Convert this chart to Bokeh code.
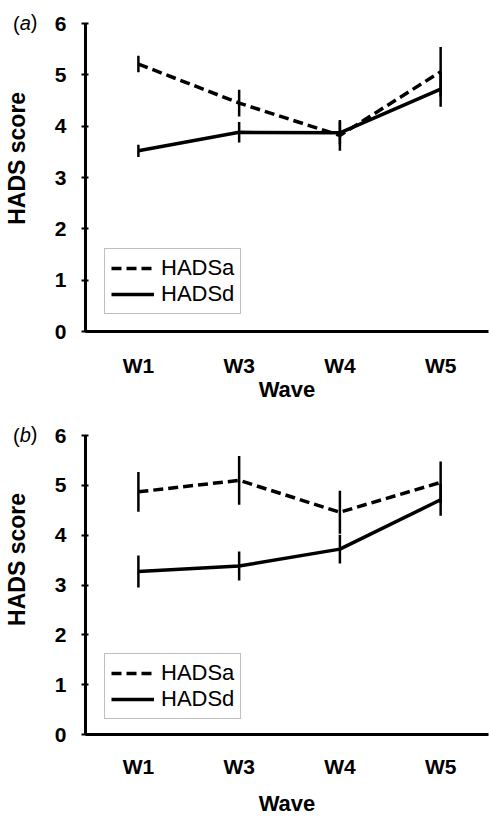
from bokeh.plotting import figure
from bokeh.models import Range1d, FixedTicker, Legend, LegendItem, Title
from bokeh.layouts import column
from bokeh.embed import file_html
from bokeh.resources import INLINE

waves = ["W1", "W3", "W4", "W5"]
yticks = [0, 1, 2, 3, 4, 5, 6]

# panel (a)
a_hadsa = [5.21, 4.45, 3.82, 5.06]
a_hadsa_err = [0.16, 0.26, 0.30, 0.48]
a_hadsd = [3.52, 3.88, 3.87, 4.72]
a_hadsd_err = [0.12, 0.20, 0.22, 0.34]

# panel (b)
b_hadsa = [4.87, 5.10, 4.46, 5.06]
b_hadsa_err = [0.40, 0.49, 0.43, 0.42]
b_hadsd = [3.27, 3.38, 3.72, 4.71]
b_hadsd_err = [0.32, 0.29, 0.29, 0.32]

FONT = "Liberation Sans"
NBSP = "\u00a0"


def panel(tag, av, ae, dv, de, height, top, bottom, tick_standoff,
          lab_standoff, leg_loc, ylab_pad):
    xpos = list(range(1, len(waves) + 1))
    p = figure(width=489, height=height, x_range=Range1d(0.475, 4.475),
               y_range=Range1d(0, 6), output_backend="svg",
               toolbar_location=None, min_border_left=84, min_border_right=1,
               min_border_top=top, min_border_bottom=bottom)
    p.outline_line_color = None
    p.xgrid.visible = False
    p.ygrid.visible = False

    # error bars
    for vals, errs in ((av, ae), (dv, de)):
        p.segment(x0=xpos, x1=xpos,
                  y0=[v - e for v, e in zip(vals, errs)],
                  y1=[v + e for v, e in zip(vals, errs)],
                  line_color="black", line_width=2.5)
    ra = p.line(xpos, av, line_color="black", line_width=3.5, line_dash="10 5")
    rd = p.line(xpos, dv, line_color="black", line_width=3.5)

    # axes
    xa = p.xaxis[0]
    xa.ticker = FixedTicker(ticks=xpos)
    xa.major_label_overrides = {i: w for i, w in zip(xpos, waves)}
    xa.major_tick_line_color = None
    xa.minor_tick_line_color = None
    xa.axis_line_width = 3
    xa.axis_label = "Wave"
    xa.major_label_standoff = tick_standoff
    xa.axis_label_standoff = lab_standoff

    ya = p.yaxis[0]
    ya.ticker = FixedTicker(ticks=yticks)
    ya.minor_tick_line_color = None
    ya.major_tick_in = 3
    ya.major_tick_out = 4
    ya.major_tick_line_width = 2
    ya.axis_line_width = 3
    # leading no-break spaces shift the label towards the top, as in the figure
    ya.axis_label = NBSP * ylab_pad + "HADS score"
    ya.major_label_standoff = 15
    ya.axis_label_standoff = 22

    for ax in (xa, ya):
        ax.major_label_text_font = FONT
        ax.major_label_text_font_style = "bold"
        ax.major_label_text_font_size = "21px"
        ax.major_label_text_color = "black"
        ax.axis_label_text_font = FONT
        ax.axis_label_text_font_style = "bold"
        ax.axis_label_text_color = "black"
        ax.axis_line_color = "black"
    xa.axis_label_text_font_size = "22px"
    ya.axis_label_text_font_size = "23px"

    legend = Legend(items=[LegendItem(label="HADSa", renderers=[ra]),
                           LegendItem(label="HADSd", renderers=[rd])],
                    location=leg_loc)
    legend.border_line_color = "#808080"
    legend.border_line_width = 1
    legend.background_fill_color = "white"
    legend.background_fill_alpha = 1
    legend.label_text_font = FONT
    legend.label_text_font_size = "22px"
    legend.label_text_color = "black"
    legend.glyph_width = 43
    legend.glyph_height = 20
    legend.label_height = 20
    legend.label_standoff = 7
    legend.padding = 6
    legend.spacing = 0
    legend.margin = 0
    p.add_layout(legend)

    # panel tag "(a)" with italic letter, drawn as zero-height titles
    for txt, dx, style in (("(", -72.5, "normal"), (tag, -65.8, "italic"),
                           (")", -54.7, "normal")):
        p.add_layout(Title(text=txt, align="left", offset=dx, standoff=-23.5,
                           vertical_align="bottom", text_font=FONT,
                           text_font_size="20px", text_font_style=style,
                           text_color="black"), "above")
    return p


pa = panel("a", a_hadsa, a_hadsa_err, a_hadsd, a_hadsd_err,
           404, 23, 73, 16, -3, (19, 17), 6)
pb = panel("b", b_hadsa, b_hadsa_err, b_hadsd, b_hadsd_err,
           414, 31, 75, 14, 10, (19, 15), 8)

layout = column(pa, pb, spacing=0)
open("out.html", "w").write(file_html(layout, INLINE))
